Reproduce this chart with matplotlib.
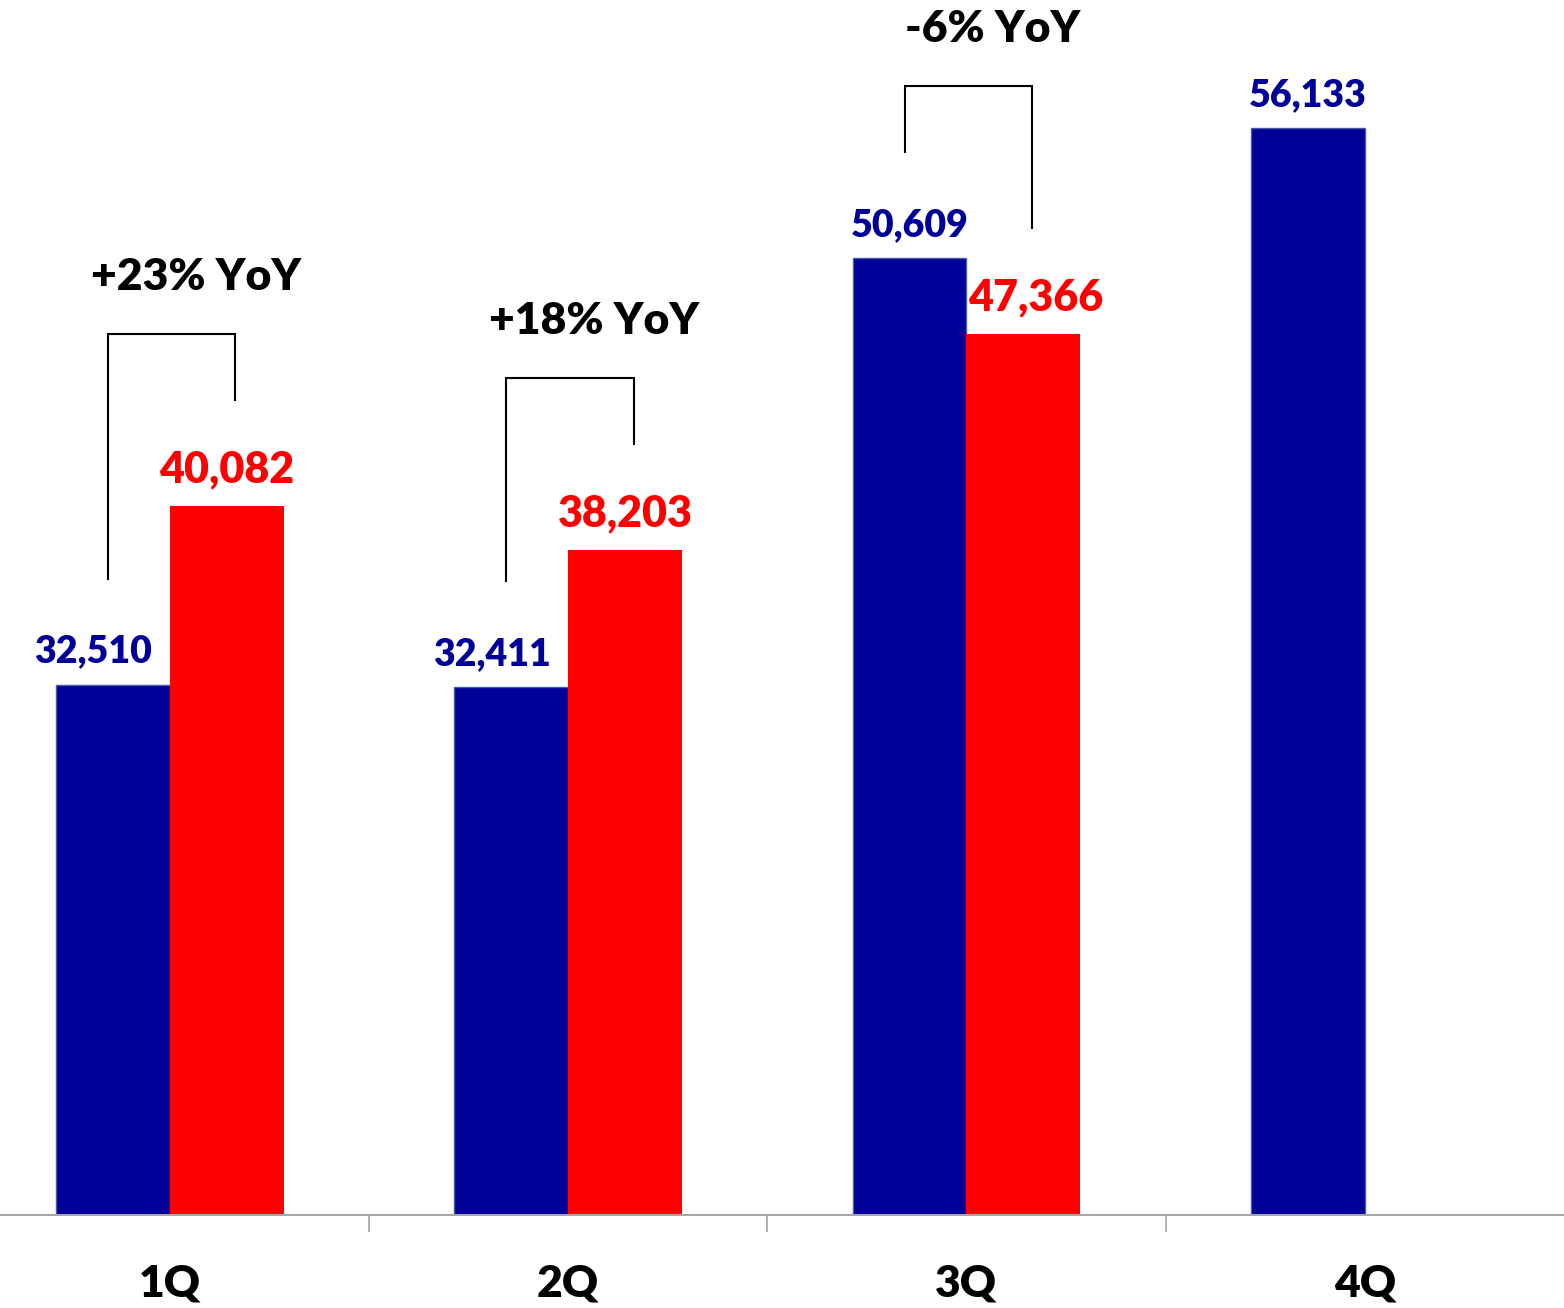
# quarterly bars, prior year (blue) vs current year (red), with YoY brackets

import matplotlib.pyplot as plt
import numpy as np

quarters = ['1Q', '2Q', '3Q', '4Q']
prev_year = [32510, 32411, 50609, 56133]
curr_year = [40082, 38203, 47366]
yoy_labels = ['+23% YoY', '+18% YoY', '-6% YoY']

blue = '#000099'
red = '#ff0000'
font = 'Lato'
weight = 'heavy'

fig = plt.figure(figsize=(15.64, 13.08), dpi=100)
ax = fig.add_axes([0, 93 / 1308, 1, 1215 / 1308])

x = np.arange(len(quarters))
w = 0.286

ax.bar(x - w / 2, prev_year, w, color=blue, edgecolor='#4060a8', linewidth=1, zorder=2)
x_curr = x[:len(curr_year)]
ax.bar(x_curr + w / 2, curr_year, w, color=red, edgecolor='none', zorder=2)

ax.set_ylim(10000, 61560)
ax.set_xlim(-0.426, 3.5)

# value labels, nudged sideways away from a taller neighbour bar
for i, v in enumerate(prev_year):
    dx = 0
    if i < len(curr_year) and curr_year[i] > v:
        dx = -14
    ax.annotate(f'{v:,}', (x[i] - w / 2, v), xytext=(dx, 16), textcoords='offset points',
                ha='center', va='baseline', color=blue, fontsize=27,
                fontweight=weight, family=font)
for i, v in enumerate(curr_year):
    dx = 9 if prev_year[i] > v else 0
    ax.annotate(f'{v:,}', (x[i] + w / 2, v), xytext=(dx, 17), textcoords='offset points',
                ha='center', va='baseline', color=red, fontsize=31,
                fontweight=weight, family=font)

# YoY brackets
leg_gap = 4500
top_gap = 7300
for xi, b, r, lab in zip(x_curr, prev_year, curr_year, yoy_labels):
    xl = xi - 0.155
    xr = xi + 0.165
    top = max(b, r) + top_gap
    ax.plot([xl, xl, xr, xr], [b + leg_gap, top, top, r + leg_gap],
            color='black', lw=1.5, solid_joinstyle='miter', zorder=3)
    ax.annotate(lab, ((xl + xr) / 2 + 0.06, top), xytext=(0, 32), textcoords='offset points',
                ha='center', va='baseline', color='black', fontsize=32,
                fontweight=weight, family=font)

# axis styling
for s in ['left', 'right', 'top']:
    ax.spines[s].set_visible(False)
ax.spines['bottom'].set_color('#a6a6a6')
ax.spines['bottom'].set_linewidth(1.5)
ax.set_yticks([])
ax.set_xticks(x)
ax.set_xticklabels(quarters, fontsize=32, fontweight=weight, family=font)
ax.tick_params(axis='x', which='major', length=0, pad=35)
ax.set_xticks(x[:-1] + 0.5, minor=True)
ax.tick_params(axis='x', which='minor', length=12, width=1.2, color='#a6a6a6', direction='out')

plt.savefig('out.png', dpi=100)
